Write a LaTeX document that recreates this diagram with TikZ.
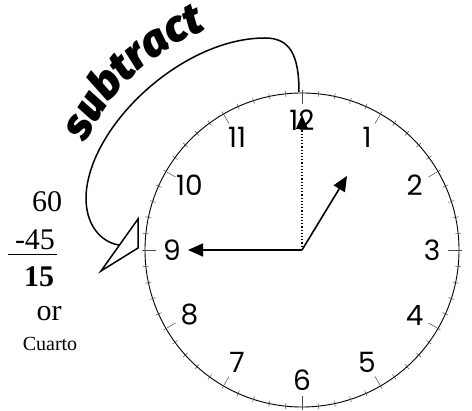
\documentclass[tikz,border=0pt]{standalone}
\usepackage{fontspec}
\setmainfont{Liberation Serif}
\newfontfamily\dialfont{Poppins}
\IfFontExistsTF{Fira Sans Black Italic}
  {\newfontfamily\heavyfont{Fira Sans Black Italic}\newcommand{\heavyshape}{}}
  {\newfontfamily\heavyfont{DejaVu Sans}\newcommand{\heavyshape}{\bfseries\itshape}}
\newcommand{\subfont}{\heavyfont\heavyshape\fontsize{44}{44}\selectfont}
\usepackage{tikz}
\usetikzlibrary{arrows.meta,positioning,decorations.text}

\begin{document}
\begin{tikzpicture}[x=1pt,y=-1pt,
    dial/.style={font=\dialfont\fontsize{28}{28}\selectfont,inner sep=0pt},
    sum/.style={font=\fontsize{30}{30}\selectfont,inner sep=0pt},
    hand/.style={line width=1.6pt,-{Triangle[length=15pt,width=13pt]}}]
  \fill[white] (0,0) rectangle (472,411);
  \coordinate (ctr) at (302,250);
  % face and minute marks
  \draw[line width=0.9pt] (ctr) circle[radius=157];
  \foreach \m in {0,...,59}{
    \pgfmathsetmacro\len{ifthenelse(mod(\m,5)==0,14,6)}
    \draw[shift={(ctr)},line width=0.5pt,black!70] (\m*6:160) -- (\m*6:160-\len);
  }
  \foreach \h in {1,...,12}
    \node[dial] (n\h) at ([shift={(\h*30-90:130)}]ctr) {\h};
  % hands
  \coordinate (mtip) at (188,250);
  \coordinate (htip) at (347,176);
  \coordinate (ttip) at (302,115);
  \draw[hand] (ctr) -- (mtip);
  \draw[hand] (ctr) -- (htip);
  \draw[dotted,line width=1.2pt,-{Triangle[length=14pt,width=12pt]}] (ctr) -- (ttip);
  % the subtract arrow
  \coordinate (top) at (299,92);
  \coordinate (bend) at (86,200);
  \coordinate (tail) at (119,245);
  \draw[line width=1.5pt] (top) .. controls (299,55) and (290,38) .. (265,38)
    .. controls (180,38) and (85,130) .. (bend)
    .. controls (87,230) and (105,243) .. (tail);
  \draw[line width=1.5pt,fill=white,line join=miter] (138,219) -- (138,248) -- (101,271) -- cycle;
  \path[decorate,decoration={text along path,text align=center,text={|\subfont|subtract}}]
    (84,146) .. controls (103,102) and (145,52) .. (210,28);
  % the sum on the left
  \node[sum] (a60) at (47,202) {60};
  \node[sum] (a45) at (35,240) {-45};
  \draw[line width=1pt] ([xshift=-7pt,yshift=-4pt]a45.south west) -- ([xshift=2pt,yshift=-4pt]a45.south east);
  \node[sum] (a15) at (39,277) {\bfseries 15};
  \node[sum] (or) at (49,314) {or};
  \node[font=\fontsize{20}{20}\selectfont,inner sep=0pt] (cuarto) at (50,344) {Cuarto};
\end{tikzpicture}
\end{document}
